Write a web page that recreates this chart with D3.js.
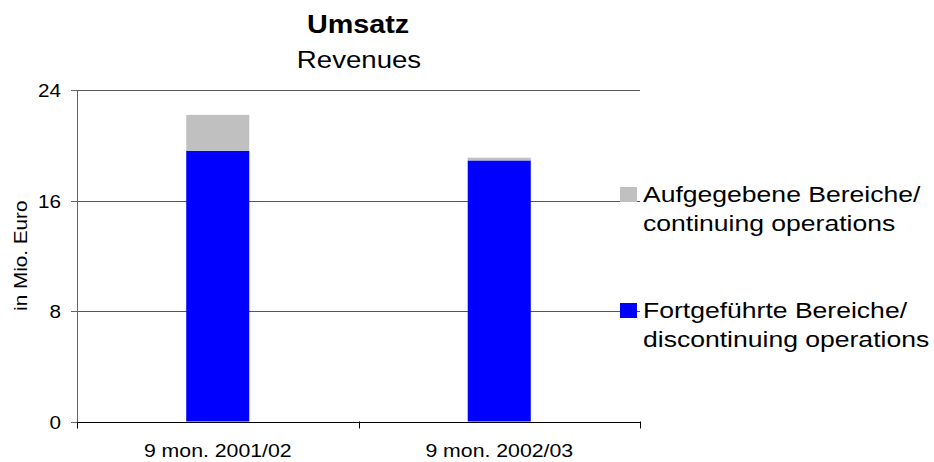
<!DOCTYPE html>
<html>
<head>
<meta charset="utf-8">
<script src="https://d3js.org/d3.v7.min.js"></script>
<style>
body { margin: 0; background: #fff; }
text { font-family: "Liberation Sans", Arial, sans-serif; fill: #000; }
</style>
</head>
<body>
<svg width="934" height="462"></svg>
<script>

var categories = ["9 mon. 2001/02", "9 mon. 2002/03"];
var fortgefuehrt = [19.6, 18.9];   // blue, bottom
var aufgegeben = [2.6, 0.2];       // grey, top
var yTicks = [0, 8, 16, 24];
var seriesNames = ["Aufgegebene Bereiche/", "Fortgeführte Bereiche/"];
var seriesNames2 = ["continuing operations", "discontinuing operations"];
var seriesColors = ["#c0c0c0", "#0000ff"];

var svg = d3.select("svg"),
    plotLeft = 77, plotRight = 640, plotTop = 90, plotBottom = 421.5,
    stretch = 1.15;

var x = d3.scaleBand().domain(categories).range([plotLeft, plotRight]);
var y = d3.scaleLinear().domain([0, 24]).range([plotBottom, plotTop]);
var barW = x.bandwidth() * 0.224;

// stretched text helper
function label(g, tx, ty, str, size, anchor, weight, rot, sx) {
  return g.append("text")
    .attr("transform", "translate(" + tx + "," + ty + ")" + (rot ? " rotate(" + rot + ")" : "") + " scale(" + (sx || stretch) + ",1)")
    .attr("text-anchor", anchor || "start")
    .style("font-size", size + "px")
    .style("font-weight", weight || "normal")
    .text(str);
}

// gridlines
svg.append("g").selectAll("line")
  .data(yTicks.filter(function(d) { return d > 0; }))
  .enter().append("line")
    .attr("x1", plotLeft).attr("x2", plotRight)
    .attr("y1", function(d) { return Math.round(y(d)) + 0.5; })
    .attr("y2", function(d) { return Math.round(y(d)) + 0.5; })
    .attr("stroke", "#555");

// bars
var data = categories.map(function(c, i) {
  return {cat: c, blue: fortgefuehrt[i], grey: aufgegeben[i]};
});
var bars = svg.append("g");
bars.selectAll(".blue").data(data).enter().append("rect")
  .attr("x", function(d) { return x(d.cat) + (x.bandwidth() - barW) / 2; })
  .attr("width", barW)
  .attr("y", function(d) { return y(d.blue); })
  .attr("height", function(d) { return y(0) - y(d.blue); })
  .attr("fill", seriesColors[1]);
bars.selectAll(".grey").data(data).enter().append("rect")
  .attr("x", function(d) { return x(d.cat) + (x.bandwidth() - barW) / 2; })
  .attr("width", barW)
  .attr("y", function(d) { return y(d.blue + d.grey); })
  .attr("height", function(d) { return y(d.blue) - y(d.blue + d.grey); })
  .attr("fill", seriesColors[0]);

// y axis
var ya = svg.append("g");
ya.append("line").attr("x1", plotLeft + 0.5).attr("x2", plotLeft + 0.5)
  .attr("y1", plotTop).attr("y2", plotBottom).attr("stroke", "#666");
yTicks.forEach(function(t) {
  var yy = Math.round(y(t)) + 0.5;
  ya.append("line").attr("x1", plotLeft - 6).attr("x2", plotLeft).attr("y1", yy).attr("y2", yy).attr("stroke", "#666");
  label(ya, 61, yy + 6.5, t, 18, "end");
});

// x axis
var xa = svg.append("g");
xa.append("line").attr("x1", plotLeft).attr("x2", plotRight)
  .attr("y1", Math.round(plotBottom) + 0.5).attr("y2", Math.round(plotBottom) + 0.5).attr("stroke", "#000");
[plotLeft, plotLeft + x.bandwidth(), plotRight].forEach(function(px) {
  xa.append("line").attr("x1", Math.round(px) + 0.5).attr("x2", Math.round(px) + 0.5)
    .attr("y1", plotBottom).attr("y2", plotBottom + 7).attr("stroke", "#000");
});
categories.forEach(function(c) {
  label(xa, x(c) + x.bandwidth() / 2, 457, c, 18.5, "middle");
});

// y axis title
label(svg, 27, (plotTop + plotBottom) / 2, "in Mio. Euro", 18, "middle", "normal", -90);

// titles
label(svg, 358, 33, "Umsatz", 25, "middle", "bold");
label(svg, 359, 68, "Revenues", 24, "middle");

// legend
var legY = [187, 303];
var lg = svg.append("g");
seriesNames.forEach(function(n, i) {
  lg.append("rect").attr("x", 620).attr("y", legY[i]).attr("width", 17).attr("height", 15)
    .attr("fill", seriesColors[i]);
  label(lg, 643, legY[i] + 15, n, 22.5, "start", "normal", 0, 1.18);
  label(lg, 643, legY[i] + 44, seriesNames2[i], 22.5, "start", "normal", 0, 1.18);
});

</script>
</body>
</html>
